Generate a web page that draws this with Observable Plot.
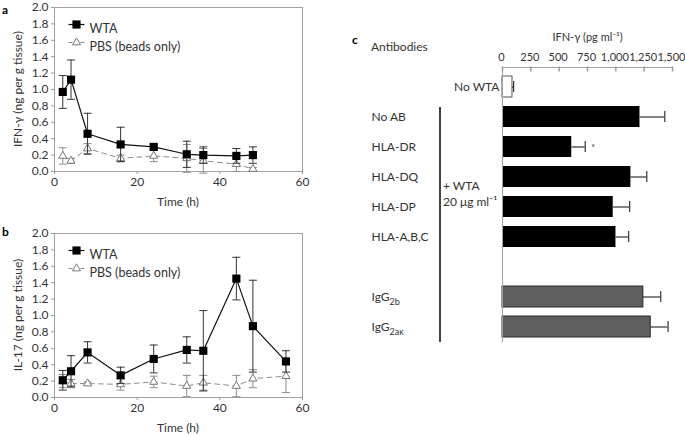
<!DOCTYPE html>
<html><head><meta charset="utf-8">
<script src="https://cdn.jsdelivr.net/npm/d3@7"></script>
<script src="https://cdn.jsdelivr.net/npm/@observablehq/plot@0.6"></script>
<style>
body{margin:0;background:#fff;font-family:Lato,sans-serif;}
#root{position:relative;width:685px;height:435px;overflow:hidden;background:#fff;}
.p{position:absolute;}
.p svg{overflow:visible;}
.lbl{position:absolute;font:bold 12px Lato,sans-serif;color:#000;line-height:12px;}
.t{position:absolute;font:12px Lato,sans-serif;color:#333;white-space:nowrap;line-height:12px;}
.c{transform:translate(-50%,-50%);}
.r{transform:translate(-50%,-50%) rotate(-90deg);}
.bracket{position:absolute;left:439px;top:107px;width:1.5px;height:235px;background:#444;}
</style></head><body>
<div id="root">
  <div class="p" id="pa" style="left:0;top:0"></div>
  <div class="p" id="pb" style="left:0;top:226px"></div>
  <div class="p" id="pc" style="left:340px;top:0"></div>
  <div class="lbl" style="left:2px;top:4px">a</div>
  <div class="lbl" style="left:2px;top:226px">b</div>
  <div class="lbl" style="left:352px;top:34px">c</div>
  <div class="t c" style="left:178px;top:202px">Time (h)</div>
  <div class="t c" style="left:178px;top:428px">Time (h)</div>
  <div class="t r" style="left:18px;top:89px">IFN-γ (ng per g tissue)</div>
  <div class="t r" style="left:18px;top:315px">IL-17 (ng per g tissue)</div>
  <div class="t" style="left:371px;top:41px">Antibodies</div>
  <div class="bracket"></div>
  <div class="t" style="left:443px;top:180px">+ WTA</div>
  <div class="t" style="left:443px;top:196px">20 μg ml⁻¹</div>
</div>
<script>
// ---- Panel a: IFN-γ time course ----
const timesA   = [2, 4, 8, 16, 24, 32, 36, 44, 48];
const wtaA     = [0.97, 1.12, 0.46, 0.33, 0.30, 0.21, 0.20, 0.19, 0.20];
const wtaAErr  = [0.20, 0.24, 0.25, 0.21, 0.03, 0.16, 0.10, 0.09, 0.10];
const pbsA     = [0.19, 0.13, 0.28, 0.16, 0.19, 0.16, 0.13, 0.09, 0.03];
const pbsAErr  = [0.10, 0.03, 0.06, 0.04, 0.07, 0.17, 0.15, 0.09, 0.02];

// ---- Panel b: IL-17 time course ----
const timesB   = [2, 4, 8, 16, 24, 32, 36, 44, 48, 56];
const wtaB     = [0.21, 0.32, 0.55, 0.27, 0.47, 0.58, 0.57, 1.45, 0.87, 0.44];
const wtaBErr  = [0.12, 0.19, 0.13, 0.10, 0.17, 0.16, 0.49, 0.26, 0.56, 0.13];
const pbsB     = [0.20, 0.17, 0.17, 0.16, 0.19, 0.14, 0.18, 0.14, 0.23, 0.26];
const pbsBErr  = [0.08, 0.05, 0.02, 0.07, 0.07, 0.13, 0.09, 0.13, 0.11, 0.20];

const timeTicks = [0, 20, 40, 60];
const concTicks = [0, 0.2, 0.4, 0.6, 0.8, 1.0, 1.2, 1.4, 1.6, 1.8, 2.0];
const legendItems = ["WTA", "PBS (beads only)"];

// ---- Panel c: antibody blocking ----
const antibodies = ["No WTA", "No AB", "HLA-DR", "HLA-DQ", "HLA-DP", "HLA-A,B,C", "IgG2b", "IgG2aκ"];
const ifnValues  = [88, 1213, 611, 1133, 977, 1001, 1243, 1308];
const ifnErr     = [10, 219, 119, 140, 145, 112, 153, 153];
const groups     = ["none", "wta", "wta", "wta", "wta", "wta", "iso", "iso"];
const ifnTicks   = [0, 250, 500, 750, 1000, 1250, 1500];
const significant = ["HLA-DR"];

const GRAY = "#8c8c8c";
const capSym = {draw(ctx) { ctx.moveTo(-4, 0); ctx.lineTo(4, 0); }};
const legLine = {draw(ctx) { ctx.moveTo(-8, 0); ctx.lineTo(8, 0); }};
const legDash = {draw(ctx) { ctx.moveTo(-8, 0); ctx.lineTo(-4, 0); ctx.moveTo(4, 0); ctx.lineTo(8, 0); }};
const vTick = {draw(ctx) { ctx.moveTo(0, -1); ctx.lineTo(0, 4); }};

function linePanel(times, wta, wtaErr, pbs, pbsErr) {
  const W = times.map((t, i) => ({t, v: wta[i], lo: wta[i] - wtaErr[i], hi: wta[i] + wtaErr[i]}));
  const P = times.map((t, i) => ({t, v: pbs[i], lo: pbs[i] - pbsErr[i], hi: pbs[i] + pbsErr[i]}));
  return Plot.plot({
    width: 340, height: 210,
    marginLeft: 54, marginRight: 38, marginTop: 7, marginBottom: 39,
    style: {fontFamily: "Lato, sans-serif", fontSize: "12px", color: "#333", background: "transparent"},
    x: {domain: [0, 60]},
    y: {domain: [0, 2]},
    marks: [
      Plot.frame({stroke: "#a0a0a0"}),
      Plot.axisX({ticks: timeTicks, tickSize: 3, tickPadding: 3, stroke: "#999", fill: "#333", label: null}),
      Plot.axisY({ticks: concTicks, tickFormat: d3.format(".1f"), tickSize: 3, tickPadding: 3, stroke: "#999", fill: "#333", label: null}),
      // PBS
      Plot.ruleX(P, {x: "t", y1: "lo", y2: "hi", stroke: GRAY, strokeWidth: 1}),
      Plot.dot(P, {x: "t", y: "lo", symbol: capSym, stroke: GRAY, fill: "none", strokeWidth: 1}),
      Plot.dot(P, {x: "t", y: "hi", symbol: capSym, stroke: GRAY, fill: "none", strokeWidth: 1}),
      Plot.line(P, {x: "t", y: "v", stroke: GRAY, strokeWidth: 1, strokeDasharray: "5,4"}),
      Plot.dot(P, {x: "t", y: "v", symbol: "triangle", r: 3, fill: "white", stroke: "#777", strokeWidth: 1}),
      // WTA
      Plot.ruleX(W, {x: "t", y1: "lo", y2: "hi", stroke: "#333", strokeWidth: 1}),
      Plot.dot(W, {x: "t", y: "lo", symbol: capSym, stroke: "#333", fill: "none", strokeWidth: 1}),
      Plot.dot(W, {x: "t", y: "hi", symbol: capSym, stroke: "#333", fill: "none", strokeWidth: 1}),
      Plot.line(W, {x: "t", y: "v", stroke: "#111", strokeWidth: 1.2}),
      Plot.dot(W, {x: "t", y: "v", symbol: "square", r: 4.6, fill: "#000", stroke: "none"}),
      // legend
      Plot.dot([legendItems[0]], {frameAnchor: "top-left", dx: 22, dy: 17, symbol: legLine, stroke: "#111", fill: "none", strokeWidth: 1.2}),
      Plot.dot([legendItems[0]], {frameAnchor: "top-left", dx: 22, dy: 17, symbol: "square", r: 4.6, fill: "#000", stroke: "none"}),
      Plot.text([legendItems[0]], {frameAnchor: "top-left", dx: 35, dy: 17, text: d => d, textAnchor: "start", fill: "#333", fontSize: 12.5}),
      Plot.dot([legendItems[1]], {frameAnchor: "top-left", dx: 22, dy: 35, symbol: legDash, stroke: GRAY, fill: "none", strokeWidth: 1}),
      Plot.dot([legendItems[1]], {frameAnchor: "top-left", dx: 22, dy: 35, symbol: "triangle", r: 3, fill: "white", stroke: "#777", strokeWidth: 1}),
      Plot.text([legendItems[1]], {frameAnchor: "top-left", dx: 35, dy: 35, text: d => d, textAnchor: "start", fill: "#333", fontSize: 12.5})
    ]
  });
}

document.getElementById("pa").append(linePanel(timesA, wtaA, wtaAErr, pbsA, pbsAErr));
document.getElementById("pb").append(linePanel(timesB, wtaB, wtaBErr, pbsB, pbsBErr));

// Panel c
const rows = antibodies.map((a, i) => ({a, v: ifnValues[i], e: ifnErr[i], g: groups[i]}));
const yDomain = [...antibodies.slice(0, 6), " ", ...antibodies.slice(6)];
const pc = Plot.plot({
  width: 345, height: 360,
  marginLeft: 162, marginRight: 13, marginTop: 67, marginBottom: 18,
  style: {fontFamily: "Lato, sans-serif", fontSize: "12px", color: "#333", background: "transparent"},
  x: {domain: [0, 1500]},
  y: {type: "band", domain: yDomain, paddingInner: 0.31, paddingOuter: 0.1, insetTop: 6, insetBottom: 1.5, axis: null},
  marks: [
    Plot.barX(rows.filter(d => d.g === "none"), {y: "a", x: "v", fill: "white", stroke: "#555", strokeWidth: 1}),
    Plot.barX(rows.filter(d => d.g === "wta"), {y: "a", x: "v", fill: "#000"}),
    Plot.barX(rows.filter(d => d.g === "iso"), {y: "a", x: "v", fill: "#5e5e5e", stroke: "#2a2a2a", strokeWidth: 1}),
    Plot.ruleY(rows, {y: "a", x1: "v", x2: d => d.v + d.e, stroke: "#333", strokeWidth: 1.2}),
    Plot.tickX(rows, {y: "a", x: d => d.v + d.e, stroke: "#333", strokeWidth: 1.2, insetTop: 5, insetBottom: 5}),
    Plot.ruleX([0], {stroke: "#a0a0a0"}),
    Plot.frame({anchor: "top", stroke: "#a0a0a0"}),
    Plot.dot(ifnTicks, {x: d => d, frameAnchor: "top", symbol: vTick, stroke: "#999", fill: "none"}),
    Plot.axisX({anchor: "top", ticks: ifnTicks, tickFormat: d3.format(","), tickSize: 0, tickPadding: 7,
      fontSize: 11, fill: "#333", dx: -1,
      label: "IFN-γ (pg ml⁻¹)", labelAnchor: "center", labelOffset: 34, labelArrow: "none"}),
    Plot.text(rows.filter(d => d.g !== "none"), {y: "a", text: "a", frameAnchor: "left", textAnchor: "start", dx: -131, fill: "#333", fontSize: 12}),
    Plot.text(rows.filter(d => d.g === "none"), {y: "a", text: "a", frameAnchor: "left", textAnchor: "end", dx: -3, fill: "#333", fontSize: 12}),
    Plot.text(rows.filter(d => significant.includes(d.a)), {y: "a", x: d => d.v + d.e, text: () => "*", dx: 8, dy: 1, fill: "#333", fontSize: 9})
  ]
});
// subscripts for isotype labels
pc.querySelectorAll("text").forEach(t => {
  const s = t.textContent;
  if (s === "IgG2b" || s === "IgG2aκ") {
    t.textContent = "IgG";
    const ts = document.createElementNS("http://www.w3.org/2000/svg", "tspan");
    ts.setAttribute("dy", "4");
    ts.setAttribute("font-size", "9");
    ts.textContent = s.slice(3);
    t.appendChild(ts);
  }
});
document.getElementById("pc").append(pc);
</script>
</body></html>
